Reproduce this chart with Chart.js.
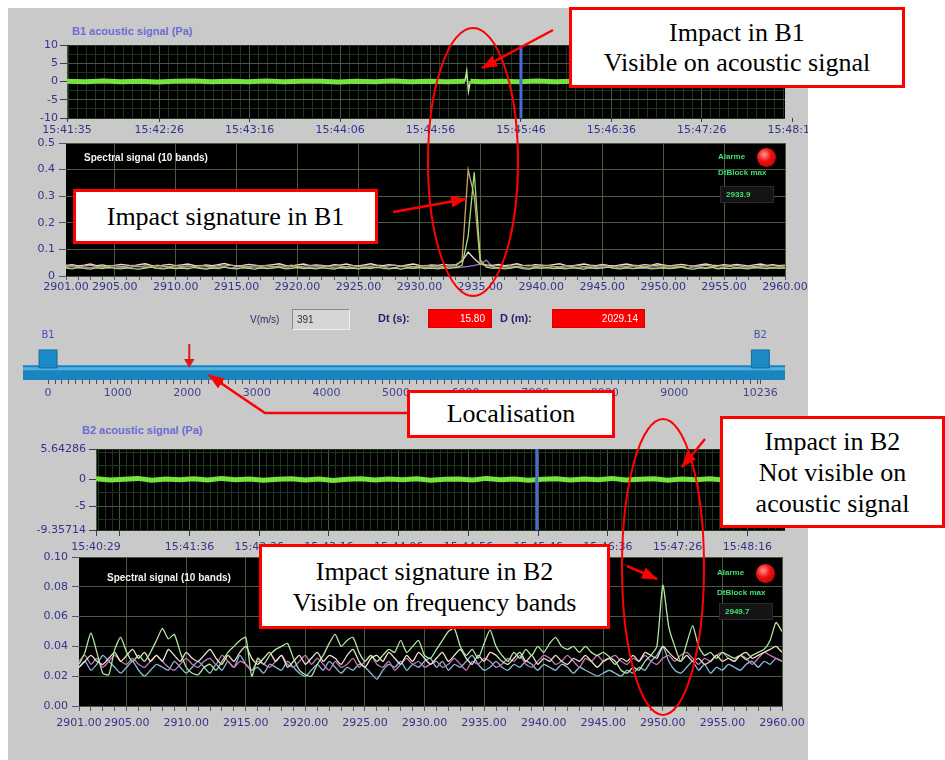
<!DOCTYPE html>
<html>
<head>
<meta charset="utf-8">
<script src="https://cdn.jsdelivr.net/npm/chart.js@4.4.1/dist/chart.umd.min.js"></script>
<style>
  body { margin: 0; background: #fff; }
  #stage { position: relative; width: 945px; height: 760px; overflow: hidden; background: #fff; }
  .abs { position: absolute; }
  #panel { left: 8px; top: 8px; width: 800px; height: 752px; background: #c9c9c9; }
  canvas { position: absolute; z-index: 1; }
  .lv { position: absolute; z-index: 2; font-family: 'Liberation Sans', sans-serif; white-space: nowrap; }
  .title { font-size: 11px; font-weight: bold; color: #6c6cd6; }
  .legend { font-size: 10px; font-weight: bold; color: #f4f4f4; }
  .alarm { font-size: 8px; font-weight: bold; color: #3ee070; }
  .led { width: 19px; height: 19px; border-radius: 50%;
         background: radial-gradient(circle at 38% 35%, #ff9a9a 0%, #f01010 40%, #a00000 100%); }
  .valbox { background: #141414; border: 1px solid #2a2a2a; font-size: 8px; font-weight: bold; color: #3ee070;
            padding-left: 5px; box-sizing: border-box; line-height: 15px; }
  .ctl { font-size: 10px; color: #2c2c66; }
  .ctlb { font-size: 11px; font-weight: bold; color: #23236e; }
  .input { background: #d6d6d6; border-top: 1px solid #8a8a8a; border-left: 1px solid #8a8a8a;
           border-bottom: 1px solid #ededed; border-right: 1px solid #ededed; box-sizing: border-box;
           font-size: 10px; color: #333; line-height: 19px; padding-left: 4px; }
  .redbox { background: #fb0000; border: 1px solid #d80000; box-sizing: border-box; font-size: 10px; color: #fff;
            text-align: right; padding-right: 6px; line-height: 18px; }
  .note { position: absolute; z-index: 3; box-sizing: border-box; border: 3px solid #ff0000; background: #fff;
          font-family: 'Liberation Serif', serif; font-size: 26px; color: #000; text-align: center;
          display: flex; flex-direction: column; justify-content: center; }
  svg { position: absolute; left: 0; top: 0; z-index: 4; }
</style>
</head>
<body>
<div id="stage">
  <div id="panel" class="abs"></div>

  <div class="lv title" style="left:72px; top:25px;">B1 acoustic signal (Pa)</div>
  <div class="lv title" style="left:82px; top:424px;">B2 acoustic signal (Pa)</div>

  <div class="lv legend" style="left:84px; top:152px;">Spectral signal (10 bands)</div>
  <div class="lv alarm" style="left:718px; top:152px;">Alarme</div>
  <div class="lv led" style="left:757px; top:148px;"></div>
  <div class="lv alarm" style="left:718px; top:168px;">DtBlock max</div>
  <div class="lv valbox" id="dtb1" style="left:720px; top:186px; width:54px; height:17px;"></div>

  <div class="lv legend" style="left:107px; top:572px;">Spectral signal (10 bands)</div>
  <div class="lv alarm" style="left:717px; top:568px;">Alarme</div>
  <div class="lv led" style="left:756px; top:564px;"></div>
  <div class="lv alarm" style="left:717px; top:588px;">DtBlock max</div>
  <div class="lv valbox" id="dtb2" style="left:719px; top:603px; width:54px; height:17px;"></div>

  <div class="lv ctl" style="left:250px; top:314px;">V(m/s)</div>
  <div class="lv input" id="vbox" style="left:292px; top:309px; width:58px; height:21px;"></div>
  <div class="lv ctlb" style="left:378px; top:312px;">Dt (s):</div>
  <div class="lv redbox" id="dtbox" style="left:428px; top:309px; width:64px; height:19px;"></div>
  <div class="lv ctlb" style="left:500px; top:312px;">D (m):</div>
  <div class="lv redbox" id="dbox" style="left:552px; top:309px; width:93px; height:19px;"></div>

  <div class="note" style="left:569px; top:7px; width:336px; height:81px; line-height:30px;">
    <div>Impact in B1</div><div>Visible on acoustic signal</div></div>
  <div class="note" style="left:73px; top:189px; width:305px; height:55px; line-height:30px;">
    <div>Impact signature in B1</div></div>
  <div class="note" style="left:407px; top:390px; width:208px; height:48px; line-height:30px;">
    <div>Localisation</div></div>
  <div class="note" style="left:720px; top:416px; width:225px; height:112px; line-height:31px;">
    <div>Impact in B2</div><div>Not visible on</div><div>acoustic signal</div></div>
  <div class="note" style="left:259px; top:544px; width:351px; height:85px; line-height:31px;">
    <div>Impact signature in B2</div><div>Visible on frequency bands</div></div>

  <svg width="945" height="760">
    <defs>
      <marker id="ah" markerUnits="userSpaceOnUse" markerWidth="16" markerHeight="12" refX="15" refY="6" orient="auto">
        <path d="M0,0 L16,6 L0,12 z" fill="#ff0000"/>
      </marker>
    </defs>
    <ellipse cx="473" cy="162" rx="45" ry="134" fill="none" stroke="#ff0000" stroke-width="2"/>
    <ellipse cx="663" cy="567" rx="41" ry="148" fill="none" stroke="#ff0000" stroke-width="2"/>
    <line x1="553" y1="30" x2="482" y2="68" stroke="#ff0000" stroke-width="2.5" marker-end="url(#ah)"/>
    <line x1="393" y1="212" x2="466" y2="199" stroke="#ff0000" stroke-width="2.5" marker-end="url(#ah)"/>
    <polyline points="407,413 265,413 209,375" fill="none" stroke="#ff0000" stroke-width="2.5" marker-end="url(#ah)"/>
    <line x1="705" y1="439" x2="682" y2="467" stroke="#ff0000" stroke-width="2.5" marker-end="url(#ah)"/>
    <line x1="627" y1="566" x2="657" y2="579" stroke="#ff0000" stroke-width="2.5" marker-end="url(#ah)"/>
  </svg>
</div>

<script>
// ---- acoustic signal B1 (seconds from 15:41:35, Pa)
const acB1Time = [0,10,20,30,40,50,60,70,80,90,100,110,120,130,140,150,160,170,180,190,200,210,220,
  221,222,223,230,240,250,260,270,280,290,300,310,320,330,340,350,360,370,380,390,397];
const acB1Val = [.1,-.1,.15,-.05,.1,-.15,.05,.15,-.1,.1, -.05,.15,-.1,.05,.1,-.15,.1,-.05,.15,-.1, .05,-.1,.1,
  2.8,-2.6,.1, -.1,.1,-.05,.15,-.1,.05,.1,-.15,.1,-.05, .15,-.1,.05,-.1,.1,-.05,.1, -.1];
const acB1Max = 397;
const acB1TickSec = [0, 51, 101, 151, 201, 251, 301, 351, 401];
const acB1TickLabels = ['15:41:35','15:42:26','15:43:16','15:44:06','15:44:56','15:45:46','15:46:36','15:47:26','15:48:16'];
const cursorB1 = 251;

// ---- acoustic signal B2 (seconds from 15:40:29, Pa)
const acB2Time = [0,10,20,30,40,50,60,70,80,90,100,110,120,130,140,150,160,170,180,190,200,210,220,230,240,
  250,260,270,280,290,300,310,320,330,340,350,360,370,380,390,400,410,420,430,440,450,460,470,480,490,494];
const acB2Val = [.15,-.1,.05,.2,-.15,.1,-.05,.15,-.1,.2, -.05,.1,-.15,.05,.15,-.1,.1,-.2,.05,.15,
  -.1,.1,-.05,.15,-.15,.05,.1,-.1,.2,-.05, .1,-.15,.05,.15,-.1,.1,-.05,.2,-.1,.05, .15,-.15,.1,-.05,.15,-.1,.05,.1,-.15,.1, .05];
const acB2Max = 494;
const acB2TickSec = [0, 17, 67, 117, 167, 217, 267, 317, 367, 417, 467];
const acB2TickLabels = ['15:40:29','','15:41:36','15:42:26','15:43:16','15:44:06','15:44:56','15:45:46','15:46:36','15:47:26','15:48:16'];
const acB2YTicks = [5.64286, 0, -5, -9.35714];
const cursorB2 = 316;

// ---- spectral bands, sampled every 0.5 from 2901 to 2960
const specStart = 2901, specEnd = 2960, specStep = 0.5;
const specTicks = [2901,2905,2910,2915,2920,2925,2930,2935,2940,2945,2950,2955,2960];

const b1White = [.040,.043,.038,.041,.045,.039,.042,.037,.040,.044, .041,.038,.043,.046,.040,.037,.041,.044,.039,.042,
  .045,.040,.038,.042,.039,.043,.047,.041,.038,.040, .044,.041,.037,.040,.043,.046,.040,.038,.042,.045,
  .039,.042,.040,.037,.043,.041,.045,.040,.038,.042, .046,.041,.039,.043,.040,.037,.042,.045,.040,.038,
  .042,.040,.044,.041,.043,.055,.090,.065,.045,.042, .040,.044,.039,.042,.046,.040,.038,.043,.041,.039,
  .043,.046,.040,.038,.042,.045,.041,.039,.044,.040, .038,.042,.045,.041,.039,.043,.040,.046,.042,.038,
  .041,.044,.040,.037,.042,.045,.041,.039,.043,.040, .044,.041,.038,.042,.045,.040,.043,.039,.041];
const b1Purple = [.032,.035,.030,.034,.031,.036,.033,.029,.034,.032, .030,.034,.036,.031,.033,.029,.035,.032,.030,.034,
  .033,.036,.031,.029,.034,.032,.035,.030,.033,.036, .031,.034,.029,.033,.036,.032,.030,.035,.033,.031,
  .034,.030,.033,.036,.031,.029,.034,.032,.035,.030, .033,.031,.035,.029,.032,.036,.033,.030,.034,.031,
  .035,.032,.030,.034,.031,.033,.036,.040,.045,.060, .033,.030,.034,.031,.036,.032,.029,.034,.033,.031,
  .035,.030,.033,.036,.031,.034,.029,.032,.035,.033, .030,.034,.032,.036,.031,.029,.033,.035,.030,.034,
  .032,.036,.030,.033,.035,.031,.034,.029,.033,.036, .031,.034,.032,.030,.035,.033,.031,.034,.032];
const b1Tan = [.036,.039,.035,.038,.041,.036,.034,.038,.040,.035, .037,.040,.035,.038,.036,.041,.037,.034,.039,.036,
  .038,.035,.040,.036,.034,.039,.037,.041,.036,.038, .035,.039,.037,.040,.034,.038,.036,.041,.035,.037,
  .040,.036,.038,.035,.039,.037,.034,.040,.036,.038, .036,.040,.035,.038,.041,.036,.039,.035,.037,.040,
  .036,.038,.035,.039,.037,.060,.400,.300,.045,.038, .036,.040,.035,.038,.036,.039,.041,.035,.037,.040,
  .036,.034,.039,.037,.040,.035,.038,.036,.041,.037, .035,.039,.036,.040,.037,.034,.038,.041,.036,.039,
  .037,.035,.040,.036,.038,.041,.035,.037,.039,.036, .040,.036,.038,.035,.039,.037,.040,.036,.038];
const b1Green = [.030,.027,.032,.029,.026,.031,.028,.033,.029,.027, .031,.028,.026,.030,.033,.029,.027,.031,.028,.030,
  .027,.032,.029,.026,.030,.028,.033,.029,.027,.031, .029,.026,.031,.028,.030,.033,.027,.029,.032,.028,
  .030,.027,.031,.029,.026,.032,.028,.030,.027,.031, .028,.033,.029,.027,.030,.026,.031,.029,.032,.028,
  .030,.027,.031,.029,.032,.040,.150,.390,.060,.033, .029,.031,.027,.030,.033,.028,.026,.031,.029,.032,
  .028,.030,.027,.031,.029,.026,.032,.028,.030,.033, .029,.027,.031,.028,.030,.032,.027,.029,.031,.028,
  .030,.033,.028,.026,.031,.029,.032,.027,.030,.028, .031,.029,.027,.032,.030,.028,.031,.029,.030];

const b2Green = [.028,.036,.049,.036,.022,.021,.038,.046,.036,.030, .034,.030,.036,.044,.052,.045,.048,.036,.026,.022,
  .021,.026,.028,.024,.030,.036,.040,.044,.046,.020, .032,.028,.034,.038,.040,.042,.032,.024,.021,.020,
  .028,.034,.042,.048,.040,.044,.046,.036,.030,.034, .030,.034,.038,.036,.044,.036,.040,.044,.034,.032,
  .038,.044,.050,.052,.040,.034,.038,.032,.042,.051, .040,.034,.030,.036,.032,.038,.034,.040,.036,.042,
  .046,.040,.038,.040,.036,.040,.036,.034,.036,.033, .030,.024,.022,.026,.024,.030,.034,.040,.081,.053,
  .040,.030,.042,.054,.040,.034,.036,.032,.036,.034, .032,.034,.031,.034,.036,.038,.044,.056,.050];
const b2Cream = [.026,.030,.034,.030,.028,.032,.036,.030,.034,.038, .032,.036,.030,.034,.030,.038,.034,.030,.036,.032,
  .030,.034,.038,.032,.028,.034,.030,.036,.040,.032, .028,.032,.036,.030,.034,.026,.030,.034,.028,.032,
  .036,.030,.034,.032,.028,.034,.038,.030,.026,.032, .034,.030,.036,.032,.028,.034,.030,.036,.032,.028,
  .032,.036,.030,.034,.038,.032,.028,.034,.030,.036, .034,.030,.028,.032,.036,.030,.034,.028,.032,.030,
  .034,.030,.028,.032,.030,.034,.030,.026,.030,.032, .028,.032,.030,.034,.030,.036,.034,.032,.040,.036,
  .032,.030,.034,.030,.032,.028,.030,.034,.030,.032, .030,.034,.036,.032,.034,.036,.038,.040,.036];
const b2Pink = [.030,.034,.028,.032,.026,.030,.034,.030,.028,.032, .028,.026,.030,.034,.030,.026,.024,.028,.032,.028,
  .026,.030,.032,.028,.034,.030,.026,.030,.028,.024, .030,.028,.026,.030,.034,.028,.026,.030,.034,.028,
  .032,.028,.024,.030,.026,.028,.032,.026,.030,.034, .028,.026,.030,.024,.028,.032,.028,.030,.026,.028,
  .030,.026,.028,.032,.028,.024,.030,.028,.032,.030, .026,.028,.032,.030,.034,.028,.026,.030,.034,.032,
  .028,.030,.034,.030,.026,.032,.030,.034,.030,.032, .034,.030,.028,.032,.030,.034,.030,.028,.032,.034,
  .030,.034,.036,.032,.028,.032,.030,.034,.036,.032, .030,.034,.032,.028,.032,.036,.034,.032,.030];
const b2Cyan = [.026,.030,.024,.028,.034,.030,.026,.022,.026,.030, .024,.020,.024,.028,.026,.024,.030,.026,.022,.026,
  .030,.026,.022,.028,.024,.030,.026,.034,.028,.024, .026,.022,.028,.026,.024,.030,.026,.022,.020,.024,
  .028,.024,.030,.026,.022,.026,.024,.028,.026,.022, .018,.024,.028,.026,.030,.024,.028,.026,.030,.032,
  .026,.030,.024,.028,.026,.030,.034,.028,.024,.026, .030,.026,.024,.028,.026,.030,.028,.024,.028,.026,
  .024,.028,.026,.022,.026,.024,.022,.020,.022,.024, .022,.020,.024,.022,.026,.024,.030,.034,.040,.030,
  .024,.022,.026,.030,.024,.028,.022,.026,.024,.028, .026,.024,.028,.030,.026,.030,.028,.032,.030];

const dtBlockB1 = '2933.9', dtBlockB2 = '2949.7';

// ---- localisation along the pipe (m)
const speed = 391, deltaT = 15.80, distance = 2029.14;
const stationPos = [0, 10236];
const stationNames = ['B1', 'B2'];
const pipeStart = -360, pipeEnd = 10590;
const pipeTickLabels = [0,1000,2000,3000,4000,5000,6000,7000,8000,9000,10236];

document.getElementById('dtb1').textContent = dtBlockB1;
document.getElementById('dtb2').textContent = dtBlockB2;
document.getElementById('vbox').textContent = speed;
document.getElementById('dtbox').textContent = deltaT.toFixed(2);
document.getElementById('dbox').textContent = distance.toFixed(2);

Chart.defaults.font.family = "'DejaVu Sans', sans-serif";
Chart.defaults.font.size = 11;
Chart.defaults.color = '#34348c';

const plotBg = {
  id: 'plotBg',
  beforeDraw(chart, args, opts) {
    if (!opts.color) return;
    const a = chart.chartArea, ctx = chart.ctx;
    ctx.save();
    ctx.fillStyle = opts.color;
    ctx.fillRect(a.left, a.top, a.right - a.left, a.bottom - a.top);
    ctx.restore();
  }
};
Chart.register(plotBg);

function place(left, top, w, h) {
  const c = document.createElement('canvas');
  c.width = w; c.height = h;
  c.style.left = left + 'px'; c.style.top = top + 'px';
  c.style.width = w + 'px'; c.style.height = h + 'px';
  document.getElementById('stage').appendChild(c);
  return c;
}
const fixX = h => s => { s.height = h; s.paddingLeft = 0; s.paddingRight = 0; };
const fixY = w => s => { s.width = w; s.paddingTop = 0; s.paddingBottom = 0; };
const pts = (xs, ys) => ys.map((y, i) => ({ x: xs[i], y: y }));
const specPts = vals => vals.map((v, i) => ({ x: specStart + i * specStep, y: v }));
// the impact transient is drawn thinner than the background band
const isSpike = c => Math.abs(c.p0.parsed.y) > 1 || Math.abs(c.p1.parsed.y) > 1;

function baseOptions(padding) {
  return {
    responsive: false, animation: false, devicePixelRatio: 1, events: [],
    layout: { padding: padding },
    plugins: { legend: { display: false }, tooltip: { enabled: false }, plotBg: { color: '#000' } },
    elements: { point: { radius: 0 }, line: { tension: 0 } }
  };
}

function acousticChart(canvas, cfg) {
  const opts = baseOptions({ top: cfg.padTop, right: 23, bottom: 0, left: 0 });
  opts.scales = {
    x: {
      type: 'linear', min: 0, max: cfg.max,
      afterBuildTicks: s => {
        const t = [];
        for (let v = cfg.minorStart; v < cfg.max; v += 5) if (!cfg.ticks.includes(v)) t.push(v);
        s.ticks = t.concat(cfg.ticks).sort((a, b) => a - b).map(v => ({ value: v }));
      },
      afterFit: fixX(cfg.xH),
      ticks: { autoSkip: false, maxRotation: 0, padding: cfg.xPad,
        callback: v => { const k = cfg.ticks.indexOf(v); return k >= 0 ? cfg.labels[k] : ''; } },
      grid: {
        tickLength: cfg.xTick,
        color: c => c.tick.value > cfg.max ? 'rgba(0,0,0,0)' : (cfg.ticks.includes(c.tick.value) ? '#45593e' : '#1c361a'),
        tickColor: c => cfg.ticks.includes(c.tick.value) ? '#3a3a5a' : 'rgba(0,0,0,0)'
      },
      border: { display: false }
    },
    y: {
      min: cfg.yMin, max: cfg.yMax,
      afterBuildTicks: s => {
        const t = [];
        for (let v = -7.5; v <= 7.5; v += 2.5) if (v > cfg.yMin && v < cfg.yMax && !cfg.yTicks.includes(v)) t.push(v);
        s.ticks = t.concat(cfg.yTicks).sort((a, b) => a - b).map(v => ({ value: v }));
      },
      afterFit: fixY(cfg.yW),
      ticks: { autoSkip: false, padding: cfg.yPad,
        callback: v => { const k = cfg.yTicks.indexOf(v); return k >= 0 ? cfg.yLabels[k] : ''; } },
      grid: {
        tickLength: 7,
        color: c => cfg.yMajor.includes(c.tick.value) ? '#45593e' : '#1c361a',
        tickColor: c => cfg.yTicks.includes(c.tick.value) ? '#3a3a5a' : 'rgba(0,0,0,0)'
      },
      border: { display: false }
    }
  };
  return new Chart(canvas, {
    type: 'line',
    data: { datasets: [
      { data: [{ x: cfg.cursor, y: cfg.yMin }, { x: cfg.cursor, y: cfg.yMax }], borderColor: '#4a6cd0', borderWidth: 3 },
      { data: pts(cfg.time, cfg.values), borderColor: '#76e23c', borderWidth: 5,
        segment: { borderWidth: c => isSpike(c) ? 1.5 : 5, borderColor: c => isSpike(c) ? '#b6ee8e' : '#76e23c' } }
    ] },
    options: opts
  });
}

function spectralChart(canvas, cfg) {
  const opts = baseOptions({ top: cfg.padTop, right: cfg.padRight, bottom: 0, left: 0 });
  opts.elements.line.tension = cfg.tension;
  opts.scales = {
    x: {
      type: 'linear', min: specStart, max: specEnd,
      afterBuildTicks: s => {
        const t = [];
        for (let v = specStart; v <= specEnd; v++) t.push({ value: v });
        s.ticks = t;
      },
      afterFit: fixX(cfg.xH),
      ticks: { autoSkip: false, maxRotation: 0, padding: cfg.xPad,
        callback: v => specTicks.includes(v) ? v.toFixed(2) : '' },
      grid: {
        tickLength: cfg.xTick,
        color: c => specTicks.includes(c.tick.value) && c.tick.value !== specStart ? '#4a5c3c' : 'rgba(0,0,0,0)',
        tickColor: '#55557a'
      },
      border: { display: false }
    },
    y: {
      min: 0, max: cfg.yMax,
      afterFit: fixY(cfg.yW),
      ticks: { stepSize: cfg.yStep, padding: 4,
        callback: v => (cfg.zeroPlain && v === 0) ? '0' : v.toFixed(cfg.digits) },
      grid: { tickLength: 7, color: '#4a5c3c', tickColor: '#55557a' },
      border: { display: false }
    }
  };
  return new Chart(canvas, {
    type: 'line',
    data: { datasets: cfg.series.map((s, i) => ({
      data: specPts(s), borderColor: cfg.colors[i], borderWidth: 1.3
    })) },
    options: opts
  });
}

acousticChart(place(8, 40, 800, 100), {
  padTop: 5, yW: 59, xH: 22, xTick: 4, xPad: 2, yPad: 2,
  max: acB1Max, minorStart: 1, ticks: acB1TickSec, labels: acB1TickLabels,
  yMin: -10, yMax: 10, yTicks: [10, 5, 0, -5, -10], yLabels: ['10', '5', '0', '-5', '-10'], yMajor: [5, 0, -5],
  time: acB1Time, values: acB1Val, cursor: cursorB1
});

spectralChart(place(8, 136, 800, 160), {
  padTop: 7, padRight: 23, yW: 58, xH: 20, xTick: 4, xPad: 1,
  yMax: 0.5, yStep: 0.1, digits: 1, zeroPlain: true, tension: 0,
  series: [b1Green, b1Tan, b1White, b1Purple],
  colors: ['#a6dc78', '#c9a36a', '#e6e2d8', '#9a78d8']
});

acousticChart(place(8, 440, 800, 115), {
  padTop: 9, yW: 88, xH: 25, xTick: 6, xPad: 5, yPad: 3,
  max: acB2Max, minorStart: 2, ticks: acB2TickSec, labels: acB2TickLabels,
  yMin: -9.35714, yMax: 5.64286, yTicks: acB2YTicks, yLabels: acB2YTicks.map(String), yMajor: [0, -5],
  time: acB2Time, values: acB2Val, cursor: cursorB2
});

spectralChart(place(8, 548, 800, 190), {
  padTop: 9, padRight: 26, yW: 71, xH: 32, xTick: 5, xPad: 6,
  yMax: 0.10, yStep: 0.02, digits: 2, zeroPlain: false, tension: 0.2,
  series: [b2Green, b2Cream, b2Pink, b2Cyan],
  colors: ['#b2e6a4', '#ece4cc', '#c878b8', '#88bcd8']
});

// ---- pipe / localisation slider
const stationLabels = {
  id: 'stationLabels',
  afterDatasetsDraw(chart) {
    const meta = chart.getDatasetMeta(1), ctx = chart.ctx;
    ctx.save();
    ctx.font = "10px 'DejaVu Sans'";
    ctx.fillStyle = '#4a52b8';
    ctx.textAlign = 'center';
    ctx.textBaseline = 'middle';
    meta.data.forEach((p, i) => ctx.fillText(stationNames[i], p.x, p.y - 24));
    ctx.restore();
  }
};
const sliderOpts = baseOptions({ top: 5, right: 23, bottom: 0, left: 15 });
sliderOpts.plugins.plotBg = { color: null };
sliderOpts.scales = {
  x: {
    type: 'linear', min: pipeStart, max: pipeEnd,
    afterBuildTicks: s => {
      const t = [];
      for (let v = 0; v <= 10200; v += 100) t.push(v);
      t.push(stationPos[1]);
      s.ticks = t.map(v => ({ value: v }));
    },
    afterFit: fixX(22),
    ticks: { autoSkip: false, maxRotation: 0, padding: 3, color: '#44448e',
      callback: v => pipeTickLabels.includes(v) ? String(v) : '' },
    grid: { drawOnChartArea: false, tickLength: 4, tickColor: '#4a4a68' },
    border: { display: false }
  },
  y: { display: false, min: 0, max: 10 }
};
new Chart(place(8, 320, 800, 82), {
  type: 'line',
  data: { datasets: [
    { data: [{ x: distance, y: 7.8 }, { x: distance, y: 3.9 }], borderColor: '#e01818', borderWidth: 2,
      pointRadius: [0, 6], pointStyle: 'triangle', rotation: 180, pointBackgroundColor: '#e01818', pointBorderWidth: 0 },
    { data: stationPos.map(p => ({ x: p, y: 4.55 })), showLine: false, pointStyle: 'rect', pointRadius: 12.7,
      pointBackgroundColor: '#1c8ac4', pointBorderColor: '#116c9c', pointBorderWidth: 1 },
    { data: [{ x: pipeStart, y: 2.45 }, { x: pipeEnd, y: 2.45 }], borderColor: '#4fb2e2', borderWidth: 3 },
    { data: [{ x: pipeStart, y: 1.45 }, { x: pipeEnd, y: 1.45 }], borderColor: '#1a84bf', borderWidth: 16, borderCapStyle: 'butt' }
  ] },
  options: sliderOpts,
  plugins: [stationLabels]
});
</script>
</body>
</html>
